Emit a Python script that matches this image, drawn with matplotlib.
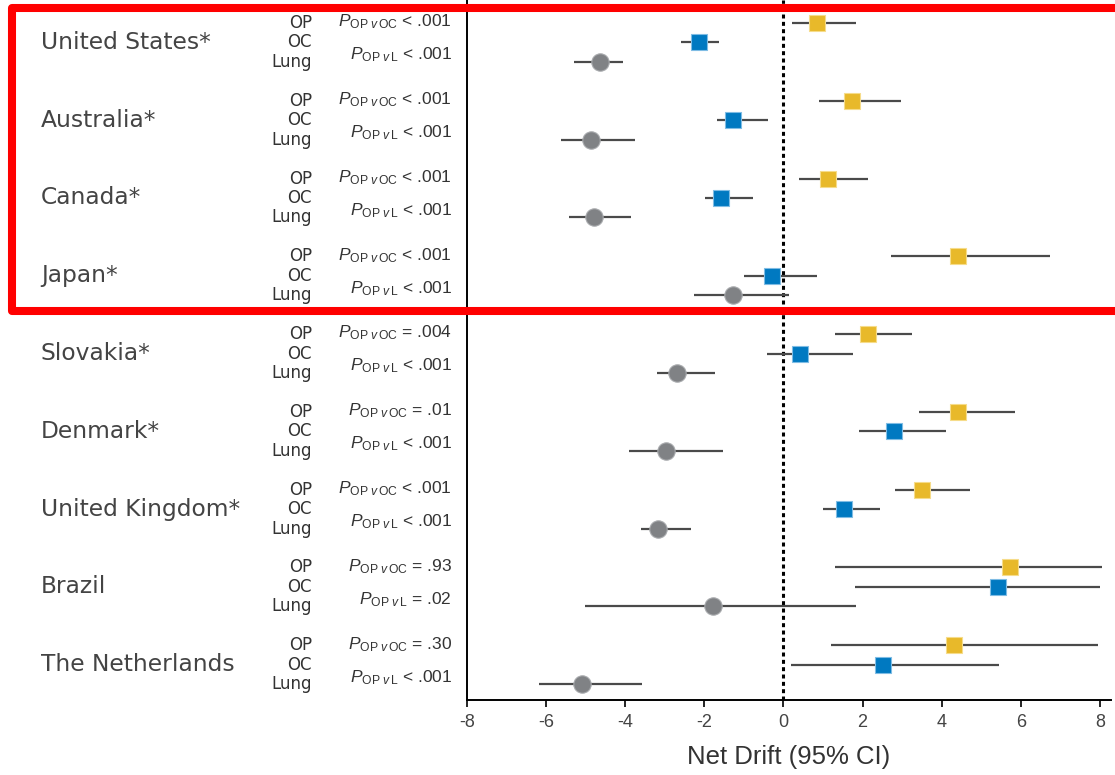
import matplotlib.pyplot as plt
from matplotlib.lines import Line2D
import numpy as np

plt.rcParams['font.family'] = ['Liberation Sans', 'DejaVu Sans']
plt.rcParams['mathtext.fontset'] = 'custom'
plt.rcParams['mathtext.rm'] = 'Liberation Sans'
plt.rcParams['mathtext.it'] = 'Liberation Sans:italic'
plt.rcParams['axes.unicode_minus'] = False

countries = ['United States*', 'Australia*', 'Canada*', 'Japan*', 'Slovakia*',
             'Denmark*', 'United Kingdom*', 'Brazil', 'The Netherlands']
sites = ['OP', 'OC', 'Lung']

# net drift estimates and 95% CI per country
op_est = [0.86, 1.74, 1.13, 4.40, 2.13, 4.40, 3.49, 5.72, 4.31]
op_lo = [0.22, 0.90, 0.40, 2.72, 1.31, 3.42, 2.82, 1.31, 1.21]
op_hi = [1.84, 2.96, 2.14, 6.75, 3.26, 5.85, 4.72, 8.06, 7.95]

oc_est = [-2.14, -1.27, -1.58, -0.29, 0.41, 2.80, 1.52, 5.42, 2.52]
oc_lo = [-2.60, -1.67, -1.98, -1.00, -0.41, 1.91, 1.00, 1.82, 0.20]
oc_hi = [-1.64, -0.38, -0.77, 0.85, 1.75, 4.12, 2.45, 8.00, 5.45]

lung_est = [-4.64, -4.87, -4.79, -1.27, -2.69, -2.98, -3.17, -1.79, -5.09]
lung_lo = [-5.30, -5.62, -5.42, -2.27, -3.19, -3.90, -3.59, -5.02, -6.18]
lung_hi = [-4.06, -3.76, -3.86, 0.13, -1.74, -1.53, -2.35, 1.84, -3.57]

p_op_oc = ['< .001', '< .001', '< .001', '< .001', '= .004', '= .01', '< .001', '= .93', '= .30']
p_op_l = ['< .001', '< .001', '< .001', '< .001', '< .001', '< .001', '< .001', '= .02', '< .001']

W, H = 1115, 775
fig = plt.figure(figsize=(W / 100, H / 100), dpi=100)
ax = fig.add_axes([467 / W, 1 - 700 / H, (1111 - 467) / W, 700 / H])

series = [
    (op_est, op_lo, op_hi, 's', '#E8B92A', '#F6DC8A', 11.5),
    (oc_est, oc_lo, oc_hi, 's', '#0079C1', '#7FBCE4', 11.5),
    (lung_est, lung_lo, lung_hi, 'o', '#808285', '#A8AAAD', 12.5),
]
base = np.arange(len(countries)) * 4
for j, (est, lo, hi, mk, col, ecol, ms) in enumerate(series):
    y = base + j
    ax.hlines(y, lo, hi, color='#4a4a4a', lw=1.6, zorder=2)
    ax.plot(est, y, ls='none', marker=mk, ms=ms, mfc=col, mec=ecol, mew=0.8, zorder=3)

ax.axvline(0, color='black', lw=2.2, ls=(0, (1.3, 1.1)), zorder=1)

ax.set_xlim(-8, 8.28)
ax.set_ylim(34.82, -1.18)
ax.set_xticks(np.arange(-8, 9, 2))
ax.set_yticks([])
ax.spines['top'].set_visible(False)
ax.spines['right'].set_visible(False)
ax.spines['left'].set_linewidth(1.4)
ax.spines['bottom'].set_linewidth(1.4)
ax.tick_params(axis='x', length=5, width=1.2, labelsize=13, labelcolor='#444444', pad=5)
ax.set_xlabel('Net Drift (95% CI)', fontsize=18.5, color='#333333', labelpad=10)


def fig_y(v):
    # data y -> figure fraction
    return ax.transData.transform((0, v))[1] / H


for i, c in enumerate(countries):
    gy = base[i]
    fig.text(41 / W, fig_y(gy + 1), c, fontsize=16.8, family='DejaVu Sans',
             color='#444444', va='center', ha='left')
    for j, s in enumerate(sites):
        fig.text(312 / W, fig_y(gy + j), s, fontsize=12, family='DejaVu Sans',
                 color='#333333', va='center', ha='right')
    fig.text(452 / W, fig_y(gy - 0.05), r'$P_{\mathrm{OP}\ v\,\mathrm{OC}}$' + ' ' + p_op_oc[i],
             fontsize=12.5, color='#333333', va='center', ha='right')
    fig.text(452 / W, fig_y(gy + 1.65), r'$P_{\mathrm{OP}\ v\,\mathrm{L}}$' + ' ' + p_op_l[i],
             fontsize=12.5, color='#333333', va='center', ha='right')

# red highlight box, open on the right
box = Line2D([1.01, 12 / W, 12 / W, 1.01], [1 - 8 / H, 1 - 8 / H, 1 - 311 / H, 1 - 311 / H],
             transform=fig.transFigure, color='#FF0000', lw=5.8,
             solid_joinstyle='round', zorder=10)
fig.add_artist(box)

fig.savefig('out.png', dpi=100)
